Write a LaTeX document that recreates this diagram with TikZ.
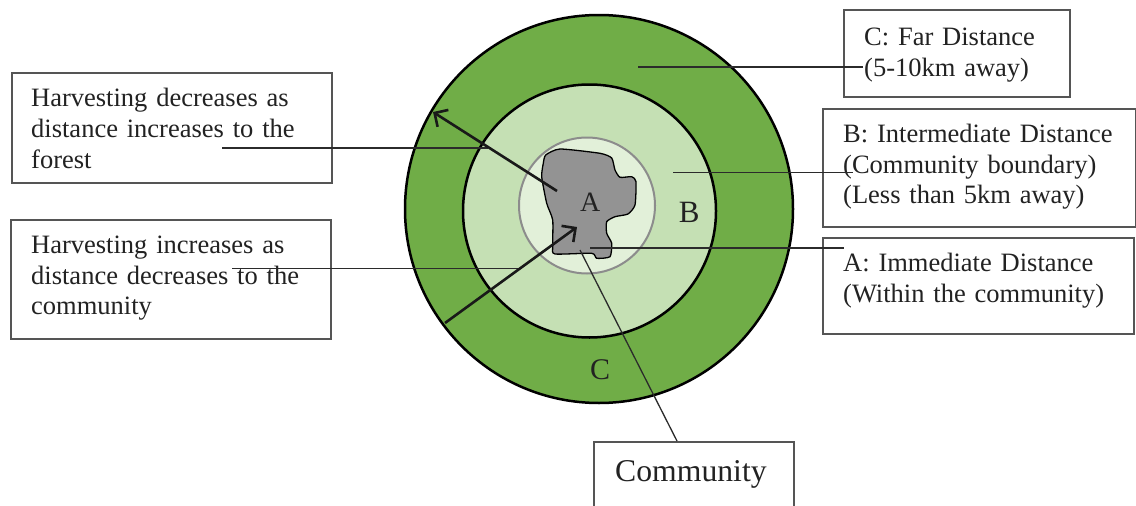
\documentclass[tikz,border=0pt]{standalone}
\usepackage{fontspec}
\setmainfont{Liberation Serif}
\usetikzlibrary{arrows.meta}
\definecolor{outergreen}{HTML}{70AD47}
\definecolor{midgreen}{HTML}{C5E0B4}
\definecolor{innergreen}{HTML}{E2F0D9}
\definecolor{blobgray}{HTML}{939393}
\definecolor{ringgray}{HTML}{8C8C8C}
\definecolor{linegray}{HTML}{2B2B2B}
\definecolor{boxgray}{HTML}{555555}
\definecolor{textgray}{HTML}{222222}
\begin{document}
\begin{tikzpicture}[x=1pt,y=-1pt,
  box/.style={draw=boxgray, line width=1.5pt, rectangle, inner sep=0pt, anchor=north west, fill=white},
  txt/.style={anchor=base west, inner sep=0pt, align=left, font=\fontsize{26.5}{30.7}\selectfont, text=textgray},
  conn/.style={draw=linegray, line width=1.3pt},
  arr/.style={draw=black!90, line width=2.6pt, -{Straight Barb[length=10pt,width=20pt,line width=2.6pt]}},
  zone/.style={draw=black, line width=2.5pt},
  zlabel/.style={inner sep=0pt, text=textgray}
]
\useasboundingbox (0,0) rectangle (1136,506);
\clip (0,0) rectangle (1136,506);

% zones
\draw[zone, fill=outergreen] (599,209) circle[radius=194];
\draw[zone, fill=midgreen] (589.5,211) circle[radius=126.5];
\draw[draw=ringgray, line width=2pt, fill=innergreen] (587,205.5) circle[radius=68];
\draw[black, line width=1.3pt, fill=blobgray] plot[smooth cycle, tension=0.35] coordinates {
  (545.7,155) (560,149) (600,153.3) (611.7,158) (615,170) (620,177.3) (631.7,176.7)
  (636,181.7) (635,205) (628,214) (615,216.7) (606.7,221.7) (606.7,233.3) (611.7,243.3)
  (610,256.7) (596.7,258.3) (591.7,253.3) (555,254) (552.7,246.7) (552.7,220)
  (546.7,203.3) (541.7,176.7) (543.3,163.3)};

\node[zlabel, font=\fontsize{28}{30}\selectfont] (lA) at (590.3,202.3) {A};
\node[zlabel, font=\fontsize{31}{33}\selectfont] (lB) at (689.3,212.3) {B};
\node[zlabel, font=\fontsize{30}{32}\selectfont] (lC) at (600,370) {C};

% boxes
\node[box, minimum width=320pt, minimum height=110pt] (boxF) at (11,72) {};
\node[txt, text width=300pt] (tF) at (31,106.7) {Harvesting decreases as\\distance increases to the\\forest};
\node[box, minimum width=320pt, minimum height=119pt] (boxI) at (10,219) {};
\node[txt, text width=300pt] (tI) at (31,253.5) {Harvesting increases as\\distance decreases to the\\community};
\node[box, minimum width=226pt, minimum height=87pt] (boxC) at (843,9) {};
\node[txt, text width=200pt] (tC) at (864,45.5) {C: Far Distance\\(5-10km away)};
\node[box, minimum width=313pt, minimum height=118pt] (boxB) at (822,108) {};
\node[txt, text width=290pt] (tB) at (843,142.5) {B: Intermediate Distance\\(Community boundary)\\(Less than 5km away)};
\node[box, minimum width=311pt, minimum height=96pt] (boxA) at (822,237) {};
\node[txt, text width=290pt] (tA) at (843,271.5) {A: Immediate Distance\\(Within the community)};
\node[box, minimum width=200pt, minimum height=90pt] (boxM) at (593,441) {};
\node[txt, font=\fontsize{31.7}{34}\selectfont] (tM) at (615,481.7) {Community};

% connector ends
\coordinate (fE) at (222,148);   \coordinate (fS) at (488,148);
\coordinate (iE) at (232,268.5); \coordinate (iS) at (518,268.5);
\coordinate (cS) at (638,67);    \coordinate (cE) at (863,67);
\coordinate (bS) at (673,172.5); \coordinate (bE) at (853,172.5);
\coordinate (aS) at (590,248);   \coordinate (aE) at (844,248);
\coordinate (mS) at (580,250);   \coordinate (mE) at (677,441);
\coordinate (d1) at (557,191);   \coordinate (d2) at (433,112);
\coordinate (u1) at (445,323);   \coordinate (u2) at (577,227);

\draw[conn] (fS) -- (fE);
\draw[conn] (iS) -- (iE);
\draw[conn] (cS) -- (cE);
\draw[conn] (bS) -- (bE);
\draw[conn] (aS) -- (aE);
\draw[conn] (mS) -- (mE);

\draw[arr] (d1) -- (d2);
\draw[arr] (u1) -- (u2);
\end{tikzpicture}
\end{document}
